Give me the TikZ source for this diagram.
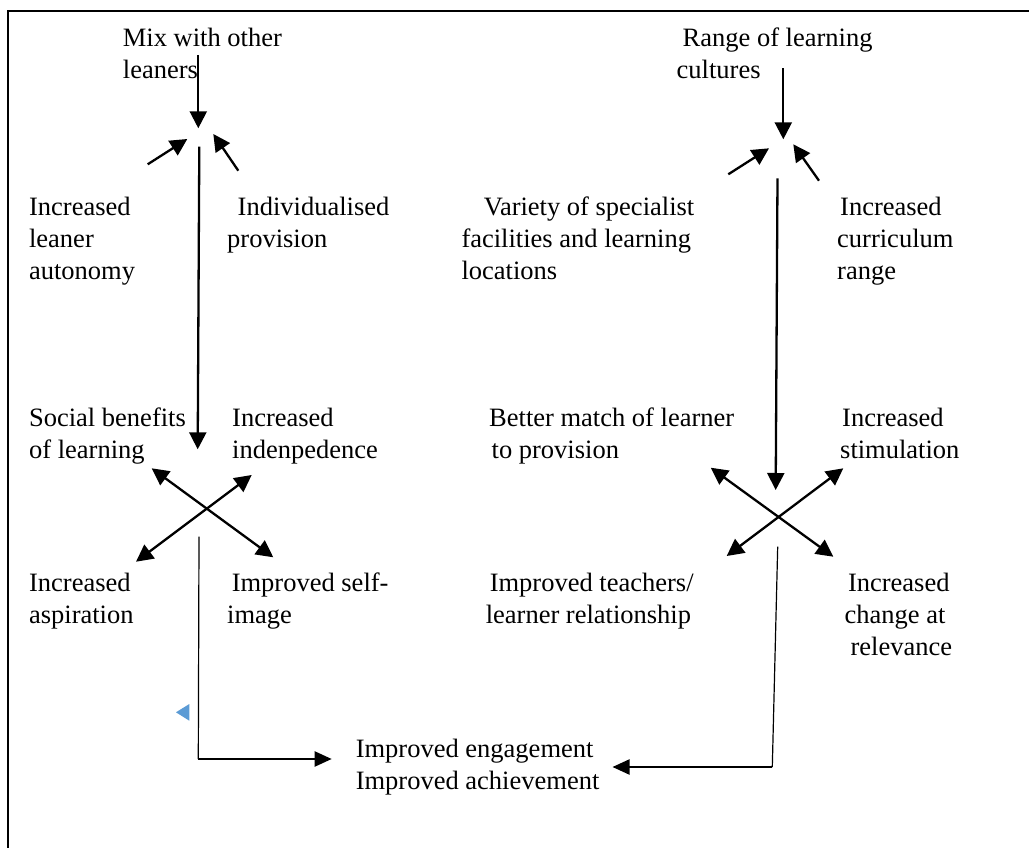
\documentclass[tikz,border=0pt]{standalone}
\usepackage{fontspec}
\setmainfont{Liberation Serif}
\usetikzlibrary{arrows.meta}
\newcommand{\lnstrut}{\rule{0pt}{19pt}}
\definecolor{markblue}{HTML}{5B9BD5}
\begin{document}
\begin{tikzpicture}[x=1pt,y=-1pt,
  lbl/.style={anchor=north west, inner sep=0pt, align=left,
              font=\fontsize{26.5}{32}\selectfont},
  arr/.style={line width=2.3pt, -{Triangle[length=17pt,width=17pt]}},
  dbl/.style={line width=2.3pt, {Triangle[length=17pt,width=17pt]}-{Triangle[length=17pt,width=17pt]}},
  feed/.style={line width=1.2pt},
  feedarr/.style={line width=2.2pt, -{Triangle[length=17pt,width=15pt]}}]
\useasboundingbox (0,0) rectangle (1029,848);

% frame
\draw[line width=2.2pt] (1029,11) -- (8,11) -- (8,848);

% ---- labels, left half
\node[lbl] (mix)    at (122.7,26.9) {\lnstrut Mix with other\\leaners};
\node[lbl] (auto)   at (28.9,196.7) {\lnstrut Increased\\leaner\\autonomy};
\node[lbl] (indiv)  at (227,196.7)  {\lnstrut\hspace*{10.5pt}Individualised\\provision};
\node[lbl] (social) at (28.9,407)   {\lnstrut Social benefits\\of learning};
\node[lbl] (indep)  at (232,407)    {\lnstrut Increased\\indenpedence};
\node[lbl] (aspir)  at (28.9,572)   {\lnstrut Increased\\aspiration};
\node[lbl] (self)   at (227,572)    {\lnstrut\hspace*{4.6pt}Improved self-\\image};

% ---- labels, right half
\node[lbl] (range)  at (676.5,26.9) {\lnstrut\hspace*{6pt}Range of learning\\cultures};
\node[lbl] (variety) at (461.3,196.7) {\lnstrut\hspace*{22.3pt}Variety of specialist\\facilities and learning\\locations};
\node[lbl] (curric) at (837,196.7)  {\lnstrut\hspace*{3pt}Increased\\curriculum\\range};
\node[lbl] (match)  at (489,407)    {\lnstrut Better match of learner\\\hspace*{2.5pt}to provision};
\node[lbl] (stim)   at (840,407)    {\lnstrut\hspace*{2pt}Increased\\stimulation};
\node[lbl] (teach)  at (485.6,572)  {\lnstrut\hspace*{4pt}Improved teachers/\\learner relationship};
\node[lbl] (change) at (844.5,572)  {\lnstrut\hspace*{3.3pt}Increased\\change at\\\hspace*{5.9pt}relevance};

% ---- outcome
\node[lbl] (engage) at (355.6,738)  {\lnstrut Improved engagement\\Improved achievement};

% ---- connector end points, left half
\coordinate (mixTop)    at (198.3,55);
\coordinate (mixTip)    at (198.3,128.3);
\coordinate (autoStart) at (147.7,164.3);
\coordinate (autoTip)   at (187.3,139);
\coordinate (indStart)  at (238.3,170.7);
\coordinate (indTip)    at (213.3,134);
\coordinate (longLtop)  at (199.3,146.7);
\coordinate (longLtip)  at (197.7,449.3);
\coordinate (xLnw) at (151.7,468.3);
\coordinate (xLse) at (273.3,557.3);
\coordinate (xLsw) at (136,561.7);
\coordinate (xLne) at (251.7,475);
\coordinate (dropLtop) at (199,536.7);
\coordinate (cornerL)  at (198.3,759);
\coordinate (engLtip)  at (331.7,759);

% ---- connector end points, right half
\coordinate (rangeTop)  at (783.3,68.3);
\coordinate (rangeTip)  at (783.3,139.3);
\coordinate (varStart)  at (728.3,174.3);
\coordinate (varTip)    at (769,148.3);
\coordinate (curStart)  at (819,180.7);
\coordinate (curTip)    at (793.3,144.3);
\coordinate (longRtop)  at (777.5,178.3);
\coordinate (longRtip)  at (775.7,490);
\coordinate (xRnw) at (710.7,467.7);
\coordinate (xRse) at (833.3,556.7);
\coordinate (xRsw) at (726.7,556);
\coordinate (xRne) at (843.3,468.3);
\coordinate (dropRtop) at (777.7,546.7);
\coordinate (cornerR)  at (772.3,767);
\coordinate (engRtip)  at (612.5,767);

% ---- arrows, left half
\draw[arr] (mixTop) -- (mixTip);
\draw[arr] (autoStart) -- (autoTip);
\draw[arr] (indStart) -- (indTip);
\draw[arr] (longLtop) -- (longLtip);
\draw[dbl] (xLnw) -- (xLse);
\draw[dbl] (xLsw) -- (xLne);
\draw[feed] (dropLtop) -- (cornerL);
\draw[feedarr] (cornerL) -- (engLtip);

% ---- arrows, right half
\draw[arr] (rangeTop) -- (rangeTip);
\draw[arr] (varStart) -- (varTip);
\draw[arr] (curStart) -- (curTip);
\draw[arr] (longRtop) -- (longRtip);
\draw[dbl] (xRnw) -- (xRse);
\draw[dbl] (xRsw) -- (xRne);
\draw[feed] (dropRtop) -- (cornerR);
\draw[feedarr] (cornerR) -- (engRtip);

% small blue marker
\fill[markblue] (176,712.3) -- (189.3,704) -- (189.3,720.7) -- cycle;
\end{tikzpicture}
\end{document}
